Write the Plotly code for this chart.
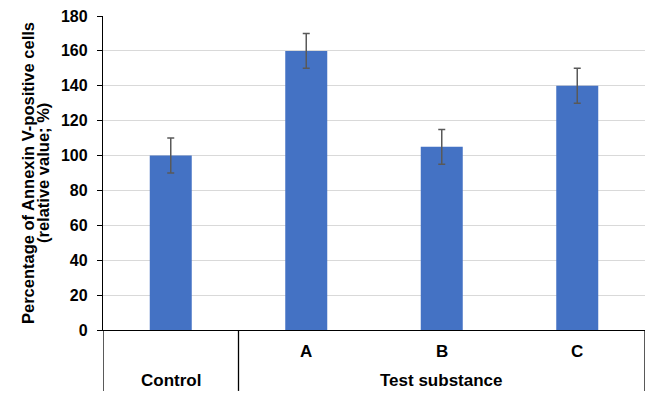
import plotly.graph_objects as go

groups = ["Control", "Test substance", "Test substance", "Test substance"]
subs = ["", "A", "B", "C"]
values = [100, 160, 105, 140]
errors = [10, 10, 10, 10]
y_ticks = [0, 20, 40, 60, 80, 100, 120, 140, 160, 180]
y_title = ["Percentage of Annexin V-positive cells", "(relative value; %)"]

FONT = "Liberation Sans, Arial, sans-serif"
xpos = list(range(len(values)))

fig = go.Figure()
fig.add_trace(go.Bar(
    x=xpos, y=values, width=0.31,
    marker=dict(color="#4472C4", line=dict(width=0)),
    error_y=dict(type="data", array=errors, visible=True,
                 color="#595959", thickness=1.5, width=3.5),
))

# group boundaries
bounds = [-0.5]
for i in range(1, len(groups)):
    if groups[i] != groups[i - 1]:
        bounds.append(i - 0.5)
bounds.append(len(groups) - 0.5)

shapes = []
for b in bounds:
    shapes.append(dict(type="line", xref="x", yref="paper", x0=b, x1=b,
                       y0=0, y1=-0.194, line=dict(color="black", width=1.3)))

lab_font = dict(family=FONT, size=17, color="black")
annotations = []
for i, s in enumerate(subs):
    if s:
        annotations.append(dict(x=i, y=-0.067, xref="x", yref="paper", text="<b>%s</b>" % s,
                                showarrow=False, yanchor="middle", font=lab_font))
seen = []
for g in groups:
    if g not in seen:
        seen.append(g)
for g in seen:
    idx = [i for i, gg in enumerate(groups) if gg == g]
    cx = sum(idx) / len(idx)
    annotations.append(dict(x=cx, y=-0.162, xref="x", yref="paper", text="<b>%s</b>" % g,
                            showarrow=False, yanchor="middle", font=lab_font))

# y-axis title as two tightly spaced rotated lines
for line, shift in zip(y_title, [-75, -60]):
    annotations.append(dict(x=0, y=0.5, xref="paper", yref="paper", text="<b>%s</b>" % line,
                            textangle=-90, showarrow=False, xanchor="center", yanchor="middle",
                            xshift=shift,
                            font=dict(family=FONT, size=16.5, color="black")))

fig.update_layout(
    width=653, height=390,
    margin=dict(l=95, r=16, t=8, b=68, autoexpand=False),
    paper_bgcolor="white", plot_bgcolor="white",
    showlegend=False,
    shapes=shapes, annotations=annotations,
    xaxis=dict(range=[-0.5, len(values) - 0.5], showticklabels=False,
               showgrid=False, zeroline=False, showline=True,
               linecolor="black", linewidth=1.3, ticks="", automargin=False),
    yaxis=dict(range=[0, 180], tickvals=y_ticks,
               ticktext=["<b>%d</b>" % t for t in y_ticks],
               showgrid=True, automargin=False,
               gridcolor="#D9D9D9", gridwidth=1, zeroline=False,
               showline=True, linecolor="black", linewidth=1.3,
               ticks="outside", ticklen=5, tickcolor="black",
               ticklabelstandoff=6, ticklabeloverflow="allow",
               tickfont=dict(family=FONT, size=16, color="black")),
)

fig.write_html("out.html")
